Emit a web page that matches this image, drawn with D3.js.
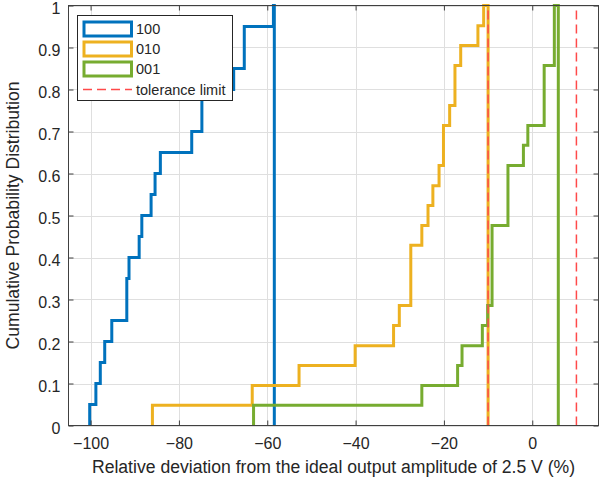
<!DOCTYPE html>
<html><head><meta charset="utf-8">
<script src="https://cdn.jsdelivr.net/npm/d3@7"></script>
<style>body{margin:0;background:#fff}svg{display:block}text{font-family:"Liberation Sans",Arial,sans-serif;fill:#262626}</style>
</head><body>
<svg id="c" width="611" height="481"></svg>
<script>
// Series: bin edges (x, %) and cumulative probability of each bin (histogram CDF, stairs style)
const edges100 = [-100.2, -98.8, -97.8, -96.8, -95.2, -91.8, -91.3, -89.0, -88.4, -86.3, -85.4, -84.2, -77.1, -74.8, -67.6, -65.2, -58.6, -58.4];
const cdf100   = [0.05, 0.10, 0.15, 0.20, 0.25, 0.35, 0.40, 0.45, 0.50, 0.55, 0.60, 0.65, 0.70, 0.80, 0.85, 0.95, 1.00];
const edges010 = [-86.0, -63.4, -52.8, -40.1, -31.4, -30.1, -27.5, -25.0, -23.6, -22.5, -21.1, -20.1, -18.7, -17.5, -16.2, -12.3, -11.0, -10.0];
const cdf010   = [0.048, 0.095, 0.143, 0.190, 0.238, 0.286, 0.429, 0.476, 0.524, 0.571, 0.619, 0.714, 0.762, 0.857, 0.905, 0.952, 1.00];
const edges001 = [-63.1, -25.0, -16.9, -15.9, -11.3, -10.1, -9.1, -5.5, -2.0, -1.0, 2.7, 5.0, 5.9];
const cdf001   = [0.048, 0.095, 0.143, 0.190, 0.238, 0.286, 0.476, 0.619, 0.667, 0.714, 0.857, 1.00];
const seriesNames = ["100", "010", "001"];
const seriesColors = ["#0072BD", "#EDB120", "#77AC30"];
const toleranceLimits = [-10, 10];
const toleranceName = "tolerance limit";
const xTicks = [-100, -80, -60, -40, -20, 0];
const yTicks = [0, 0.1, 0.2, 0.3, 0.4, 0.5, 0.6, 0.7, 0.8, 0.9, 1];
const xLabel = "Relative deviation from the ideal output amplitude of 2.5 V (%)";
const yLabel = "Cumulative Probability Distribution";

const svg = d3.select("#c");
const L = 68.5, R = 598.5, T = 5.5, B = 425.5;
const x = d3.scaleLinear().domain([-105, 15]).range([L, R]);
const y = d3.scaleLinear().domain([0, 1]).range([B, T]);

// grid
const g = svg.append("g");
g.selectAll(".gx").data(xTicks).join("line")
  .attr("x1", d => Math.round(x(d)) + 0.5).attr("x2", d => Math.round(x(d)) + 0.5)
  .attr("y1", T).attr("y2", B).attr("stroke", "#dfdfdf").attr("stroke-width", 1);
g.selectAll(".gy").data(yTicks).join("line")
  .attr("y1", d => Math.round(y(d)) + 0.5).attr("y2", d => Math.round(y(d)) + 0.5)
  .attr("x1", L).attr("x2", R).attr("stroke", "#dfdfdf").attr("stroke-width", 1);

// series
const all = [[edges100, cdf100], [edges010, cdf010], [edges001, cdf001]];
const line = d3.line().x(d => x(d[0])).y(d => y(d[1]));
all.forEach(([e, c], i) => {
  const pts = [[e[0], 0]];
  c.forEach((v, k) => { pts.push([e[k], v]); pts.push([e[k + 1], v]); });
  pts.push([e[e.length - 1], 0]);
  svg.append("path").attr("d", line(pts)).attr("fill", "none")
    .attr("stroke", seriesColors[i]).attr("stroke-width", 3).attr("stroke-linejoin", "miter");
});

// tolerance limits
svg.selectAll(".tol").data(toleranceLimits).join("line")
  .attr("x1", d => x(d)).attr("x2", d => x(d)).attr("y1", y(0)).attr("y2", y(1))
  .attr("stroke", "#ff4a4a").attr("stroke-width", 1.5).attr("stroke-dasharray", "9,5");

// axes box
const axC = "#404040";
svg.append("rect").attr("x", L).attr("y", T).attr("width", R - L).attr("height", B - T)
  .attr("fill", "none").attr("stroke", axC).attr("stroke-width", 1);
const tl = 5;
const xb = d3.axisBottom(x).tickValues(xTicks).tickSizeInner(-tl).tickSizeOuter(0).tickPadding(12).tickFormat(d3.format("d"));
const ax = svg.append("g").attr("transform", `translate(0,${B})`).call(xb);
const xt = svg.append("g").attr("transform", `translate(0,${T})`).call(d3.axisTop(x).tickValues(xTicks).tickSizeInner(-tl).tickSizeOuter(0).tickFormat(""));
const yl = d3.axisLeft(y).tickValues(yTicks).tickSizeInner(-tl).tickSizeOuter(0).tickPadding(8).tickFormat(d => d === 0 || d === 1 ? String(d) : d3.format(".1f")(d));
const ay = svg.append("g").attr("transform", `translate(${L},0)`).call(yl);
const yr = svg.append("g").attr("transform", `translate(${R},0)`).call(d3.axisRight(y).tickValues(yTicks).tickSizeInner(-tl).tickSizeOuter(0).tickFormat(""));
[ax, xt, ay, yr].forEach(a => {
  a.select(".domain").remove();
  a.selectAll(".tick line").attr("stroke", axC);
  a.selectAll("text").attr("font-size", 16).attr("fill", "#262626").attr("font-family", '"Liberation Sans",Arial,sans-serif');
});
ax.selectAll("text").attr("dy", "0.71em");
ay.selectAll("text").attr("dy", "0.5em");

// labels
svg.append("text").attr("x", (L + R) / 2).attr("y", 473).attr("text-anchor", "middle")
  .attr("font-size", 17.6).text(xLabel);
svg.append("text").attr("transform", `translate(19,${(T + B) / 2}) rotate(-90)`)
  .attr("text-anchor", "middle").attr("font-size", 17.6).text(yLabel);

// legend
const lg = svg.append("g");
lg.append("rect").attr("x", 77.5).attr("y", 15.5).attr("width", 155).attr("height", 85)
  .attr("fill", "#fff").attr("stroke", "#262626").attr("stroke-width", 1);
seriesNames.forEach((n, i) => {
  const cy = 29 + i * 20;
  lg.append("rect").attr("x", 84).attr("y", cy - 7).attr("width", 47.5).attr("height", 14)
    .attr("fill", "#fff").attr("stroke", seriesColors[i]).attr("stroke-width", 3);
  lg.append("text").attr("x", 136).attr("y", cy).attr("dy", "0.35em").attr("font-size", 14.5).text(n);
});
lg.append("line").attr("x1", 83).attr("x2", 132).attr("y1", 89.5).attr("y2", 89.5)
  .attr("stroke", "#ff4a4a").attr("stroke-width", 1.5).attr("stroke-dasharray", "9,5");
lg.append("text").attr("x", 136).attr("y", 89.5).attr("dy", "0.35em").attr("font-size", 14.5).text(toleranceName);
</script>
</body></html>
